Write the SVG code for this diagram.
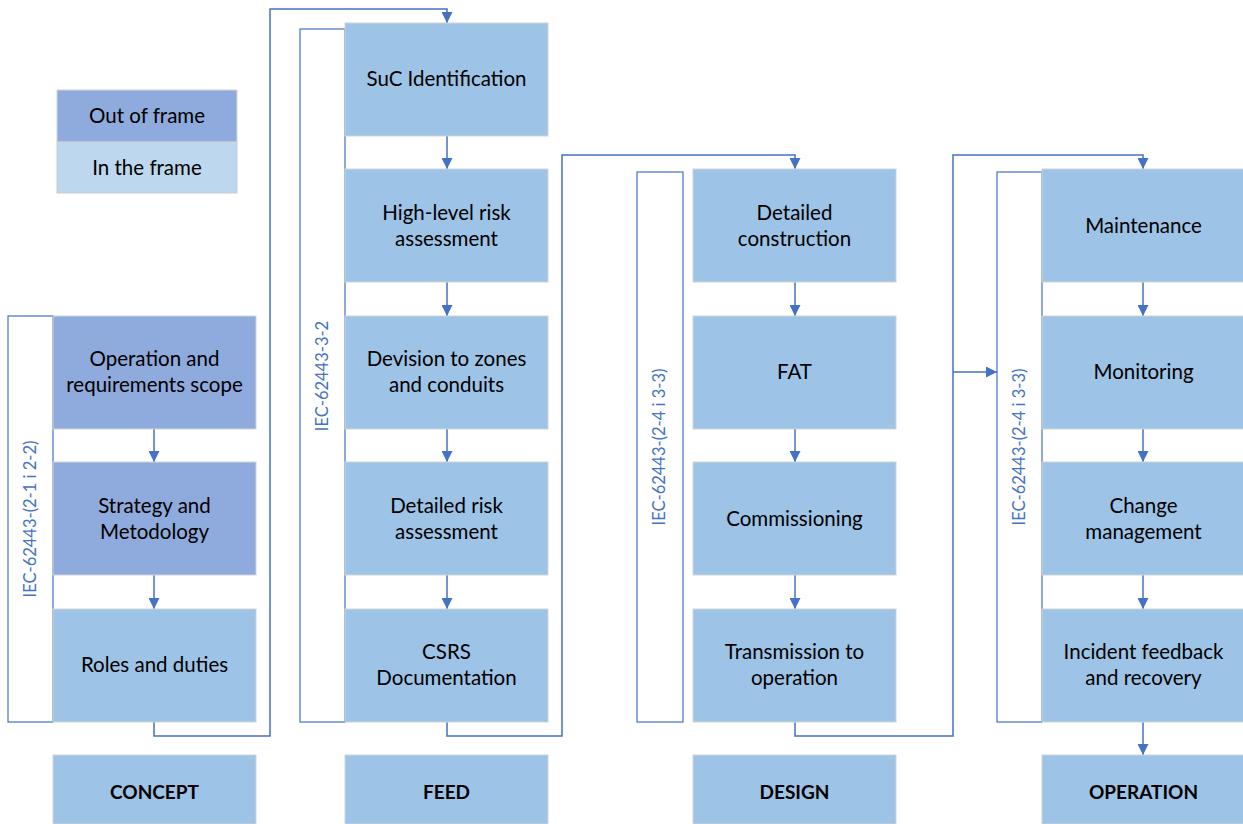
<svg xmlns="http://www.w3.org/2000/svg" width="1243" height="824" viewBox="0 0 1243 824">
<style>
.box{fill:#9dc3e6;stroke:#d0d3d6;stroke-width:1}
.out{fill:#8faadc;stroke:#d0d3d6;stroke-width:1}
.infr{fill:#bdd7ee;stroke:#c9cdd1;stroke-width:1}
.side{fill:#ffffff;stroke:#4472c4;stroke-width:1.2}
.t{font-family:Lato,"Liberation Sans",sans-serif;font-size:20.5px;fill:#000;text-anchor:middle}
.b{font-weight:bold;font-size:19px}
.v{font-family:Lato,"Liberation Sans",sans-serif;font-size:16.5px;fill:#4472c4;text-anchor:middle}
.c{fill:none;stroke:#4472c4;stroke-width:1.5}
</style>
<defs>
<marker id="ah" viewBox="0 0 10 10" refX="10" refY="5" markerWidth="11" markerHeight="11" markerUnits="userSpaceOnUse" orient="auto">
<path d="M0,0 L10,5 L0,10 Z" fill="#4472c4"/>
</marker>
</defs>
<rect width="1243" height="824" fill="#ffffff"/>

<g id="legend">
<rect class="out" x="57" y="90" width="180" height="52"/>
<rect class="infr" x="57" y="142" width="180" height="51"/>
<text class="t" x="147" y="123">Out of frame</text>
<text class="t" x="147" y="175">In the frame</text>
</g>

<g id="connectors">
<line class="c" x1="154" y1="429" x2="154" y2="462" marker-end="url(#ah)"/>
<line class="c" x1="154" y1="575" x2="154" y2="609" marker-end="url(#ah)"/>
<polyline class="c" points="154,722 154,736 270,736 270,9 447,9 447,23" marker-end="url(#ah)"/>
<line class="c" x1="447" y1="136" x2="447" y2="169" marker-end="url(#ah)"/>
<line class="c" x1="447" y1="282" x2="447" y2="316" marker-end="url(#ah)"/>
<line class="c" x1="447" y1="429" x2="447" y2="462" marker-end="url(#ah)"/>
<line class="c" x1="447" y1="575" x2="447" y2="609" marker-end="url(#ah)"/>
<polyline class="c" points="447,722 447,736 562,736 562,155 795,155 795,169" marker-end="url(#ah)"/>
<line class="c" x1="795" y1="282" x2="795" y2="316" marker-end="url(#ah)"/>
<line class="c" x1="795" y1="429" x2="795" y2="462" marker-end="url(#ah)"/>
<line class="c" x1="795" y1="575" x2="795" y2="609" marker-end="url(#ah)"/>
<polyline class="c" points="795,722 795,736 953,736 953,155 1143,155 1143,169" marker-end="url(#ah)"/>
<line class="c" x1="953" y1="372" x2="997" y2="372" marker-end="url(#ah)"/>
<line class="c" x1="1143" y1="282" x2="1143" y2="316" marker-end="url(#ah)"/>
<line class="c" x1="1143" y1="429" x2="1143" y2="462" marker-end="url(#ah)"/>
<line class="c" x1="1143" y1="575" x2="1143" y2="609" marker-end="url(#ah)"/>
<line class="c" x1="1143" y1="722" x2="1143" y2="755" marker-end="url(#ah)"/>
</g>

<g id="concept-side">
<rect class="side" x="8" y="316" width="45" height="406"/>
<text class="v" transform="translate(36,519) rotate(-90)">IEC-62443-(2-1 i 2-2)</text>
</g>
<g id="concept-1">
<rect class="out" x="53" y="316" width="203" height="113"/>
<text class="t" x="154.5" y="366">Operation and</text>
<text class="t" x="154.5" y="392">requirements scope</text>
</g>
<g id="concept-2">
<rect class="out" x="53" y="462" width="203" height="113"/>
<text class="t" x="154.5" y="513">Strategy and</text>
<text class="t" x="154.5" y="539">Metodology</text>
</g>
<g id="concept-3">
<rect class="box" x="53" y="609" width="203" height="113"/>
<text class="t" x="154.5" y="672">Roles and duties</text>
</g>
<g id="concept-label">
<rect class="box" x="53" y="755" width="203" height="69"/>
<text class="t b" x="154.5" y="799">CONCEPT</text>
</g>

<g id="feed-side">
<rect class="side" x="300" y="29" width="45" height="693"/>
<text class="v" transform="translate(328,376) rotate(-90)">IEC-62443-3-2</text>
</g>
<g id="feed-1">
<rect class="box" x="345" y="23" width="203" height="113"/>
<text class="t" x="446.5" y="86">SuC Identification</text>
</g>
<g id="feed-2">
<rect class="box" x="345" y="169" width="203" height="113"/>
<text class="t" x="446.5" y="220">High-level risk</text>
<text class="t" x="446.5" y="246">assessment</text>
</g>
<g id="feed-3">
<rect class="box" x="345" y="316" width="203" height="113"/>
<text class="t" x="446.5" y="366">Devision to zones</text>
<text class="t" x="446.5" y="392">and conduits</text>
</g>
<g id="feed-4">
<rect class="box" x="345" y="462" width="203" height="113"/>
<text class="t" x="446.5" y="513">Detailed risk</text>
<text class="t" x="446.5" y="539">assessment</text>
</g>
<g id="feed-5">
<rect class="box" x="345" y="609" width="203" height="113"/>
<text class="t" x="446.5" y="659">CSRS</text>
<text class="t" x="446.5" y="685">Documentation</text>
</g>
<g id="feed-label">
<rect class="box" x="345" y="755" width="203" height="69"/>
<text class="t b" x="446.5" y="799">FEED</text>
</g>

<g id="design-side">
<rect class="side" x="637" y="172" width="46" height="550"/>
<text class="v" transform="translate(665,447) rotate(-90)">IEC-62443-(2-4 i 3-3)</text>
</g>
<g id="design-1">
<rect class="box" x="693" y="169" width="203" height="113"/>
<text class="t" x="794.5" y="220">Detailed</text>
<text class="t" x="794.5" y="246">construction</text>
</g>
<g id="design-2">
<rect class="box" x="693" y="316" width="203" height="113"/>
<text class="t" x="794.5" y="379">FAT</text>
</g>
<g id="design-3">
<rect class="box" x="693" y="462" width="203" height="113"/>
<text class="t" x="794.5" y="526">Commissioning</text>
</g>
<g id="design-4">
<rect class="box" x="693" y="609" width="203" height="113"/>
<text class="t" x="794.5" y="659">Transmission to</text>
<text class="t" x="794.5" y="685">operation</text>
</g>
<g id="design-label">
<rect class="box" x="693" y="755" width="203" height="69"/>
<text class="t b" x="794.5" y="799">DESIGN</text>
</g>

<g id="operation-side">
<rect class="side" x="997" y="172" width="45" height="550"/>
<text class="v" transform="translate(1025,447) rotate(-90)">IEC-62443-(2-4 i 3-3)</text>
</g>
<g id="operation-1">
<rect class="box" x="1042" y="169" width="203" height="113"/>
<text class="t" x="1143.5" y="233">Maintenance</text>
</g>
<g id="operation-2">
<rect class="box" x="1042" y="316" width="203" height="113"/>
<text class="t" x="1143.5" y="379">Monitoring</text>
</g>
<g id="operation-3">
<rect class="box" x="1042" y="462" width="203" height="113"/>
<text class="t" x="1143.5" y="513">Change</text>
<text class="t" x="1143.5" y="539">management</text>
</g>
<g id="operation-4">
<rect class="box" x="1042" y="609" width="203" height="113"/>
<text class="t" x="1143.5" y="659">Incident feedback</text>
<text class="t" x="1143.5" y="685">and recovery</text>
</g>
<g id="operation-label">
<rect class="box" x="1042" y="755" width="203" height="69"/>
<text class="t b" x="1143.5" y="799">OPERATION</text>
</g>
</svg>
